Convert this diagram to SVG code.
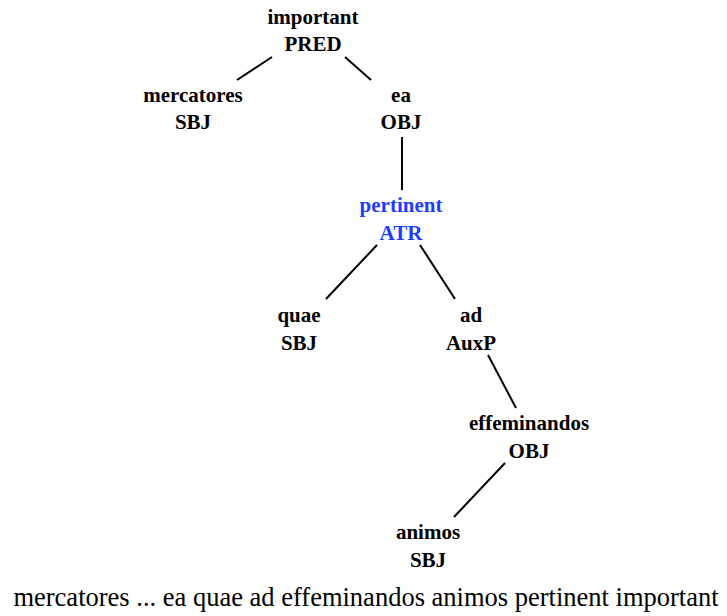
<svg xmlns="http://www.w3.org/2000/svg" width="727" height="616" viewBox="0 0 727 616">
<style>
.n{font-family:"Liberation Serif","Times New Roman",serif;font-weight:bold;font-size:21px;text-anchor:middle;fill:#000}
.hl{fill:#1f3cff}
.e{stroke:#000;stroke-width:2;fill:none}
.s{font-family:"Liberation Serif","Times New Roman",serif;font-size:26.5px;text-anchor:middle;fill:#000}
</style>
<rect width="727" height="616" fill="#fff"/>
<g id="edges">
<line class="e" x1="272" y1="57" x2="237" y2="80"/>
<line class="e" x1="345" y1="57" x2="371" y2="80"/>
<line class="e" x1="402" y1="137" x2="402" y2="190"/>
<line class="e" x1="377" y1="245" x2="326" y2="299"/>
<line class="e" x1="420" y1="245" x2="455" y2="299"/>
<line class="e" x1="488" y1="355" x2="516" y2="408"/>
<line class="e" x1="505" y1="463" x2="454" y2="517"/>
</g>
<g id="n-important"><text class="n" x="313" y="24">important</text><text class="n" x="313" y="51">PRED</text></g>
<g id="n-mercatores"><text class="n" x="193" y="102">mercatores</text><text class="n" x="193" y="129">SBJ</text></g>
<g id="n-ea"><text class="n" x="401" y="102">ea</text><text class="n" x="401" y="129">OBJ</text></g>
<g id="n-pertinent"><text class="n hl" x="401" y="212">pertinent</text><text class="n hl" x="401" y="240">ATR</text></g>
<g id="n-quae"><text class="n" x="299" y="322">quae</text><text class="n" x="299" y="350">SBJ</text></g>
<g id="n-ad"><text class="n" x="471" y="322">ad</text><text class="n" x="471" y="350">AuxP</text></g>
<g id="n-effeminandos"><text class="n" x="529" y="430">effeminandos</text><text class="n" x="529" y="458">OBJ</text></g>
<g id="n-animos"><text class="n" x="428" y="539">animos</text><text class="n" x="428" y="567">SBJ</text></g>
<text class="s" x="366" y="606">mercatores ... ea quae ad effeminandos animos pertinent important</text>
</svg>
